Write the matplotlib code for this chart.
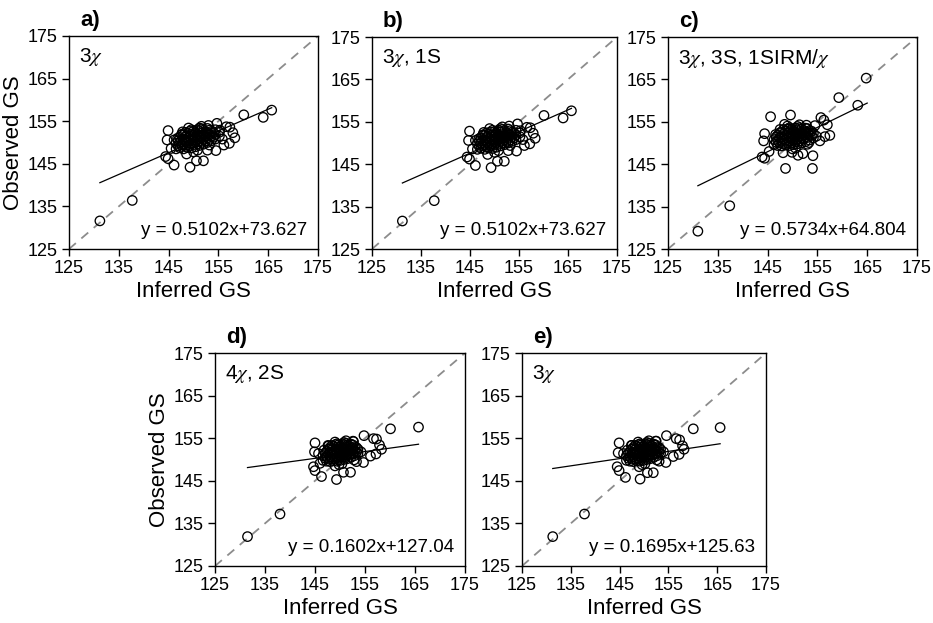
import numpy as np
import matplotlib
matplotlib.use('Agg')
import matplotlib.pyplot as plt

plt.rcParams['font.family'] = ['Liberation Sans', 'DejaVu Sans']
plt.rcParams['mathtext.fontset'] = 'stix'

# ---- data: (inferred GS, observed GS) ----
# panel a (sparse points around the cluster)
a_out_x = [131.2, 137.7, 165.7, 164.0, 160.1, 144.9, 144.7, 144.4, 144.9, 146.1, 149.3, 150.6, 152.0,
           154.7, 156.6, 157.3, 157.9, 158.3, 157.2, 156.1, 154.5, 152.8, 148.6, 145.5, 146.1, 147.6, 155.3]
a_out_y = [131.6, 136.4, 157.6, 155.9, 156.5, 152.8, 150.6, 146.7, 146.2, 144.7, 144.2, 145.7, 145.7,
           154.5, 153.7, 153.6, 152.3, 151.1, 149.8, 149.4, 148.1, 148.2, 147.3, 148.6, 150.6, 151.9, 152.9]
# panel a (dense core)
a_core_x = [146.5, 146.5, 147.2, 147.2, 147.2, 148.0, 148.0, 148.0, 148.0, 148.8, 148.8, 148.8, 148.8,
            149.6, 149.6, 149.6, 149.6, 149.6, 150.4, 150.4, 150.4, 150.4, 151.2, 151.2, 151.2, 151.2, 151.2,
            152.0, 152.0, 152.0, 152.0, 152.8, 152.8, 152.8, 152.8, 153.6, 153.6, 153.6, 154.4, 154.4, 154.4,
            155.2, 155.2, 147.8, 150.8, 153.2, 149.0, 155.8, 146.8, 151.6, 150.0, 153.0,
            146.9, 146.9, 147.6, 147.6, 147.6, 148.4, 148.4, 148.4, 148.4, 149.2, 149.2, 149.2, 149.2,
            150.0, 150.0, 150.0, 150.0, 150.8, 150.8, 150.8, 150.8, 151.6, 151.6, 151.6, 151.6,
            152.4, 152.4, 152.4, 153.2, 153.2, 153.2, 154.0, 154.0]
a_core_y = [148.5, 149.8, 148.8, 150.0, 151.2, 148.5, 149.6, 150.7, 151.8, 148.8, 149.9, 151.0, 152.1,
            148.7, 149.8, 150.9, 152.0, 153.0, 149.0, 150.1, 151.2, 152.3, 149.3, 150.4, 151.5, 152.6, 153.4,
            149.6, 150.7, 151.8, 152.9, 150.0, 151.1, 152.2, 153.3, 150.4, 151.5, 152.6, 150.8, 151.9, 153.0,
            151.5, 152.4, 152.5, 148.2, 149.4, 153.4, 150.8, 151.0, 153.8, 147.8, 154.0,
            149.2, 150.4, 149.4, 150.6, 151.8, 149.1, 150.2, 151.3, 152.4, 149.3, 150.4, 151.5, 152.6,
            149.5, 150.6, 151.7, 152.7, 149.7, 150.8, 151.9, 153.0, 150.0, 151.1, 152.2, 153.2,
            150.3, 151.4, 152.5, 150.7, 151.8, 152.9, 151.2, 152.3]

# panel b: same samples as panel a
b_out_x, b_out_y = a_out_x, a_out_y
b_core_x, b_core_y = a_core_x, a_core_y

# panel c
c_out_x = [131.0, 137.4, 164.8, 163.1, 159.3, 145.6, 149.6, 148.4, 144.4, 144.2, 143.9, 144.4, 145.3, 148.6,
           154.0, 154.1, 152.1, 151.1, 149.9, 148.1, 155.7, 156.3, 157.0, 154.5, 157.5, 156.5, 155.5, 153.3]
c_out_y = [129.2, 135.2, 165.3, 158.9, 160.7, 156.2, 156.6, 154.4, 152.2, 150.5, 146.7, 146.4, 148.0, 144.0,
           144.0, 147.0, 147.5, 147.1, 147.8, 147.7, 156.0, 155.4, 154.3, 154.1, 151.8, 151.5, 150.5, 150.1]
c_core_x = [146.3, 146.3, 147.0, 147.0, 147.0, 147.8, 147.8, 147.8, 147.8, 148.6, 148.6, 148.6, 148.6,
            149.4, 149.4, 149.4, 149.4, 149.4, 150.2, 150.2, 150.2, 150.2, 151.0, 151.0, 151.0, 151.0, 151.0,
            151.8, 151.8, 151.8, 151.8, 152.6, 152.6, 152.6, 152.6, 153.4, 153.4, 153.4, 154.2, 154.2,
            147.5, 150.6, 153.0, 149.0, 154.8, 146.6, 151.4, 150.0, 152.8,
            146.7, 146.7, 147.4, 147.4, 147.4, 148.2, 148.2, 148.2, 148.2, 149.0, 149.0, 149.0, 149.0,
            149.8, 149.8, 149.8, 149.8, 150.6, 150.6, 150.6, 150.6, 151.4, 151.4, 151.4, 151.4,
            152.2, 152.2, 152.2, 153.0, 153.0, 153.0, 153.8, 153.8]
c_core_y = [149.6, 150.8, 149.4, 150.6, 151.8, 149.3, 150.4, 151.5, 152.6, 149.5, 150.6, 151.7, 152.8,
            149.4, 150.5, 151.6, 152.7, 153.6, 149.6, 150.7, 151.8, 152.9, 149.8, 150.9, 152.0, 153.1, 153.9,
            150.0, 151.1, 152.2, 153.3, 150.3, 151.4, 152.5, 153.5, 150.7, 151.8, 152.9, 151.2, 152.3,
            153.2, 148.8, 149.7, 154.0, 151.6, 152.0, 154.3, 148.6, 154.2,
            150.2, 151.4, 150.0, 151.2, 152.4, 149.9, 151.0, 152.1, 153.2, 150.0, 151.2, 152.3, 153.3,
            150.1, 151.2, 152.3, 153.3, 150.3, 151.4, 152.5, 153.5, 150.5, 151.6, 152.7, 153.6,
            150.9, 152.0, 153.0, 151.3, 152.4, 153.4, 151.8, 152.8]

# panel d
d_out_x = [131.5, 138.0, 165.7, 160.1, 154.8, 156.7, 157.3, 157.9, 158.3, 157.2, 156.1, 154.7, 153.3,
           145.0, 144.9, 145.7, 146.0, 144.7, 145.0, 146.3, 149.3, 150.7, 152.1, 149.0, 147.7, 152.7]
d_out_y = [131.9, 137.2, 157.6, 157.2, 155.6, 154.9, 154.8, 153.4, 152.4, 151.3, 150.8, 149.3, 149.5,
           153.9, 151.8, 151.4, 149.1, 148.3, 147.4, 146.0, 145.3, 147.0, 147.0, 148.5, 153.2, 154.2]
d_core_x = [146.6, 146.6, 147.3, 147.3, 147.3, 148.0, 148.0, 148.0, 148.0, 148.7, 148.7, 148.7, 148.7,
            149.4, 149.4, 149.4, 149.4, 149.4, 150.1, 150.1, 150.1, 150.1, 150.8, 150.8, 150.8, 150.8, 150.8,
            151.5, 151.5, 151.5, 151.5, 152.2, 152.2, 152.2, 152.2, 152.9, 152.9, 152.9, 153.6, 153.6,
            147.6, 150.4, 152.8, 149.0, 154.2, 146.8, 151.2, 149.8, 152.6,
            147.0, 147.0, 147.7, 147.7, 147.7, 148.4, 148.4, 148.4, 148.4, 149.1, 149.1, 149.1, 149.1,
            149.8, 149.8, 149.8, 149.8, 150.5, 150.5, 150.5, 150.5, 151.2, 151.2, 151.2, 151.2,
            151.9, 151.9, 151.9, 152.6, 152.6, 152.6, 153.3, 153.3]
d_core_y = [149.8, 150.9, 149.6, 150.7, 151.8, 149.5, 150.6, 151.7, 152.8, 149.7, 150.8, 151.9, 153.0,
            149.6, 150.7, 151.8, 152.9, 153.7, 149.8, 150.9, 152.0, 153.1, 150.0, 151.1, 152.2, 153.3, 154.0,
            150.2, 151.3, 152.4, 153.4, 150.5, 151.6, 152.6, 153.6, 150.9, 152.0, 153.0, 151.4, 152.4,
            153.3, 149.0, 149.9, 154.1, 151.8, 152.2, 154.4, 148.8, 154.3,
            150.3, 151.5, 150.1, 151.2, 152.4, 150.1, 151.2, 152.3, 153.3, 150.2, 151.3, 152.4, 153.5,
            150.3, 151.4, 152.5, 153.5, 150.5, 151.6, 152.7, 153.7, 150.7, 151.8, 152.9, 153.8,
            151.0, 152.1, 153.1, 151.3, 152.4, 153.4, 151.7, 152.8]

# panel e
e_out_x = [131.3, 137.8, 165.6, 160.1, 154.6, 156.6, 157.3, 157.9, 158.2, 157.2, 156.0, 154.5,
           144.9, 144.7, 145.8, 144.5, 144.9, 146.2, 149.2, 150.7, 151.9, 149.0, 147.5, 152.5, 153.1]
e_out_y = [131.9, 137.2, 157.5, 157.2, 155.6, 154.9, 154.6, 153.2, 152.4, 151.2, 150.7, 149.3,
           153.9, 151.6, 151.4, 148.3, 147.4, 145.8, 145.4, 146.9, 146.9, 148.3, 153.3, 154.3, 149.6]
e_core_x = [146.4, 146.4, 147.1, 147.1, 147.1, 147.8, 147.8, 147.8, 147.8, 148.5, 148.5, 148.5, 148.5,
            149.2, 149.2, 149.2, 149.2, 149.2, 149.9, 149.9, 149.9, 149.9, 150.6, 150.6, 150.6, 150.6, 150.6,
            151.3, 151.3, 151.3, 151.3, 152.0, 152.0, 152.0, 152.0, 152.7, 152.7, 152.7, 153.4, 153.4,
            147.4, 150.2, 152.6, 148.8, 154.0, 146.6, 151.0, 149.6, 152.4,
            146.8, 146.8, 147.5, 147.5, 147.5, 148.2, 148.2, 148.2, 148.2, 148.9, 148.9, 148.9, 148.9,
            149.6, 149.6, 149.6, 149.6, 150.3, 150.3, 150.3, 150.3, 151.0, 151.0, 151.0, 151.0,
            151.7, 151.7, 151.7, 152.4, 152.4, 152.4, 153.1, 153.1]
e_core_y = d_core_y

# fitted lines: slope, intercept, x range
fits = [(0.5102, 73.627), (0.5102, 73.627), (0.5734, 64.804), (0.1602, 127.04), (0.1695, 125.63)]
fit_ranges = [(131.2, 165.7), (131.2, 165.7), (131.0, 165.0), (131.5, 165.7), (131.3, 165.6)]

panel_letters = ['a)', 'b)', 'c)', 'd)', 'e)']
panel_labels = [r'3$\chi$', r'3$\chi$, 1S', r'3$\chi$, 3S, 1SIRM/$\chi$', r'4$\chi$, 2S', r'3$\chi$']
equations = ['y = 0.5102x+73.627', 'y = 0.5102x+73.627', 'y = 0.5734x+64.804',
             'y = 0.1602x+127.04', 'y = 0.1695x+125.63']

xs = [a_out_x + a_core_x, b_out_x + b_core_x, c_out_x + c_core_x, d_out_x + d_core_x, e_out_x + e_core_x]
ys = [a_out_y + a_core_y, b_out_y + b_core_y, c_out_y + c_core_y, d_out_y + d_core_y, e_out_y + e_core_y]

ticks = [125, 135, 145, 155, 165, 175]

fig = plt.figure(figsize=(9.33, 6.23), dpi=100)
W, H = 933, 623
# axes boxes in pixels: left, top, width, height
boxes = [(69, 36, 249, 213), (372, 37, 245, 212), (668, 37, 249, 212),
         (215, 353, 250, 213), (522, 353, 244, 213)]

for i, (l, t, w, h) in enumerate(boxes):
    ax = fig.add_axes([l / W, 1 - (t + h) / H, w / W, h / H])
    ax.plot([125, 175], [125, 175], color='#8c8c8c', ls=(0, (5, 4)), lw=1.3, zorder=1)
    ax.scatter(xs[i], ys[i], s=46, facecolors='none', edgecolors='black', linewidths=0.95, zorder=2)
    m, b = fits[i]
    x0, x1 = fit_ranges[i]
    ax.plot([x0, x1], [m * x0 + b, m * x1 + b], color='black', lw=0.9, zorder=3)

    ax.set_xlim(125, 175)
    ax.set_ylim(125, 175)
    ax.set_xticks(ticks)
    ax.set_yticks(ticks)
    ax.tick_params(direction='out', length=5, width=1, labelsize=13, pad=3)
    for sp in ax.spines.values():
        sp.set_linewidth(1.0)

    ax.text(0.04, 0.955, panel_labels[i], transform=ax.transAxes, ha='left', va='top', fontsize=15)
    ax.text(0.955, 0.045, equations[i], transform=ax.transAxes, ha='right', va='bottom', fontsize=13.5)
    ax.text(0.045, 1.025, panel_letters[i], transform=ax.transAxes, ha='left', va='bottom',
            fontsize=16, fontweight='bold')

    ax.set_xlabel('Inferred GS', fontsize=16, labelpad=3)
    if i in (0, 3):
        ax.set_ylabel('Observed GS', fontsize=16, labelpad=3)

fig.savefig('out.png', dpi=100)
